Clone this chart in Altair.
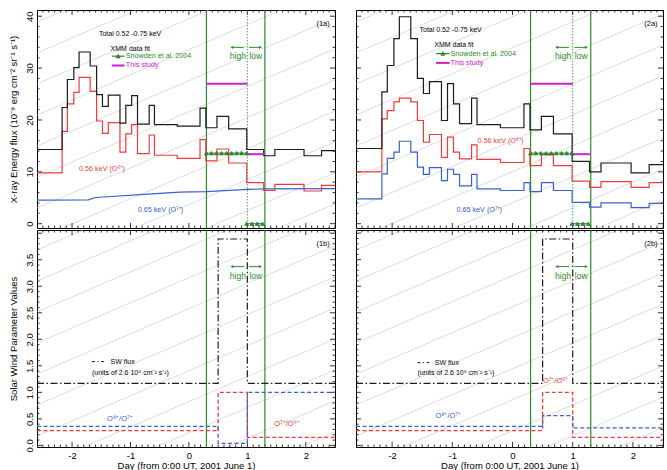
import altair as alt
import pandas as pd

# ---------------------------------------------------------------------------
# Data (days from 0:00 UT, 2001 June 1)
# ---------------------------------------------------------------------------
# Edges of the XMM-Newton time bins shared by the step curves of (1a) and (2a)
bin_edges = [-2.6, -2.17, -2.08, -1.97, -1.88, -1.69, -1.58, -1.48, -1.38, -1.18,
             -1.08, -0.98, -0.88, -0.68, -0.59, -0.2, 0.19, 0.29, 0.48, 0.68,
             0.99, 1.28, 1.47, 1.97, 2.27, 2.5]

# (1a) model X-ray energy flux, 1e-9 erg cm-2 sr-1 s-1
total_1a = [14.3, 22.4, 27.8, 30.1, 33.1, 30.4, 24.9, 22.6, 24.8, 19.4,
            22.8, 24.7, 19.2, 22.8, 19.1, 18.8, 22.3, 18.5, 20.7, 18.3,
            14.3, 13.1, 14.3, 13.1, 14.1]
o6_1a = [9.8, 17.8, 23.1, 25.3, 28.2, 25.5, 19.8, 17.4, 19.5, 13.8,
         17.3, 19.1, 13.5, 17.1, 13.2, 12.6, 16.2, 12.1, 14.4, 11.7,
         7.9, 6.4, 7.6, 6.3, 7.4]
o7_1a_days = [-2.6, -1.72, -1.6, -0.7, -0.16, 0.3, 1.0, 1.3, 2.5]
o7_1a = [4.55, 4.6, 5.05, 5.7, 6.1, 6.2, 6.6, 6.7, 6.75]

# (2a) model X-ray energy flux
total_2a = [14.5, 25.4, 30.5, 35.7, 39.9, 35.7, 28.0, 25.1, 27.4, 19.9,
            27.0, 23.1, 19.3, 24.2, 19.1, 18.5, 23.1, 18.1, 20.7, 17.3,
            12.0, 10.0, 11.7, 9.8, 11.4]
o6_2a = [10.0, 20.2, 21.8, 23.5, 24.2, 23.5, 19.9, 15.7, 17.2, 12.8,
         16.7, 13.8, 12.5, 15.2, 12.4, 11.8, 14.5, 11.2, 13.3, 11.2,
         8.2, 7.0, 8.1, 7.0, 7.9]
o7_2a = [4.8, 9.6, 12.6, 13.8, 15.9, 13.8, 10.9, 9.5, 10.8, 8.3,
         10.5, 9.5, 7.3, 9.5, 6.7, 6.4, 7.9, 6.2, 7.9, 6.4,
         4.1, 3.2, 4.0, 3.1, 3.9]

# XMM data fit, Snowden et al. 2004
snowden_high_days = [0.30, 0.386, 0.472, 0.558, 0.644, 0.73, 0.816, 0.902, 0.988]
snowden_high_flux = [13.6, 13.6, 13.6, 13.6, 13.6, 13.6, 13.6, 13.6, 13.6]
snowden_low_days = [0.988, 1.08, 1.17, 1.26]
snowden_low_flux = [0.0, 0.0, 0.0, 0.0]

# XMM data fit, this study (high and low interval)
study_start = [0.3, 1.0]
study_end = [1.0, 1.3]
study_flux_1a = [27.0, 13.4]
study_flux_2a = [27.0, 13.4]

# Solar wind parameters (1b) and (2b)
sw_edges = [-2.6, 0.5, 1.0, 2.5]
sw_flux_1b = [1.17, 3.89, 1.17]
o8_o7_1b = [0.36, 0.04, 1.0]
o7_o6_1b = [0.28, 1.0, 0.15]
sw_flux_2b = [1.17, 3.89, 1.17]
o8_o7_2b = [0.36, 0.56, 0.33]
o7_o6_2b = [0.28, 1.0, 0.15]

# Interval boundaries
boundary_days = [0.3, 1.3]
split_day = [1.0]

# ---------------------------------------------------------------------------
FONT = "Liberation Sans"
X_DOMAIN = [-2.6, 2.5]
Y_TOP = [-0.83, 41.2]
Y_BOT = [-0.03, 4.06]
W_LEFT, W_RIGHT = 298, 307
H_TOP, H_BOT = 218, 217

INK = "#1c1c1c"
RED = "#f03a3a"
BLUE = "#3a60cc"
GREEN = "#2a8a2a"
MAGENTA = "#cc20cc"
HATCH = "#c6c6c6"


def neg_hyphen(fmt):
    return f"datum.value < 0 ? '-' + format(-datum.value, '{fmt}') : format(datum.value, '{fmt}')"


x_axis_bottom = alt.Axis(
    values=[-2, -1, 0, 1, 2], labelExpr=neg_hyphen("d"), labelFontSize=9.5,
    labelPadding=3, labelColor="black", ticks=False, domain=False, grid=False,
    title="Day (from 0:00 UT, 2001 June 1)", titleFontSize=9.5,
    titleFontWeight="normal", titlePadding=1, titleColor="black")


def y_axis(values, fmt, title):
    return alt.Axis(
        values=values, format=fmt, labelAngle=270, labelAlign="center",
        labelBaseline="bottom", labelFontSize=9.5, labelPadding=3,
        labelColor="black", ticks=False, domain=False, grid=False,
        minExtent=10, maxExtent=10, title=title, titleFontSize=9.5,
        titleFontWeight="normal", titlePadding=9, titleColor="black")


def panel_spec(width, height, ydom, xaxis, yaxis):
    return dict(W=width, H=height, ydom=ydom,
                xs=alt.Scale(domain=X_DOMAIN, nice=False, zero=False),
                ys=alt.Scale(domain=ydom, nice=False, zero=False),
                xaxis=xaxis, yaxis=yaxis)


def X(p, field):
    return alt.X(field, type="quantitative", scale=p["xs"], axis=p["xaxis"])


def Y(p, field):
    return alt.Y(field, type="quantitative", scale=p["ys"], axis=p["yaxis"])


def hatch(p, phase, gap=31.0, slope=0.43):
    """Faint diagonal background lines, clipped to the panel."""
    y0, y1 = p["ydom"]
    ky = p["H"] / (y1 - y0)
    rise = slope * p["W"]
    b = phase
    while b + rise > 0:
        b -= gap
    rows = []
    while b < p["H"]:
        rows.append({"x": X_DOMAIN[0], "x2": X_DOMAIN[1],
                     "y": y0 + b / ky, "y2": y0 + (b + rise) / ky})
        b += gap
    return alt.Chart(pd.DataFrame(rows)).mark_rule(
        color=HATCH, strokeWidth=0.6, clip=True).encode(
        x=X(p, "x"), x2=alt.X2("x2"), y=Y(p, "y"), y2=alt.Y2("y2"))


def frame_ticks(p, xmajor, xminor, ymajor, yminor):
    layers = []
    for vals, ln in ((xmajor, 5), (xminor, 2.5)):
        df = pd.DataFrame({"v": vals})
        for ya, yb in ((0, ln), (p["H"], p["H"] - ln)):
            layers.append(alt.Chart(df).mark_rule(color="black", strokeWidth=0.8).encode(
                x=X(p, "v"), y=alt.value(ya), y2=alt.value(yb)))
    for vals, ln in ((ymajor, 5), (yminor, 2.5)):
        df = pd.DataFrame({"v": vals})
        for xa, xb in ((0, ln), (p["W"], p["W"] - ln)):
            layers.append(alt.Chart(df).mark_rule(color="black", strokeWidth=0.8).encode(
                y=Y(p, "v"), x=alt.value(xa), x2=alt.value(xb)))
    return layers


def steps(p, edges, values, color, width=1.2, dash=None):
    df = pd.DataFrame({"x": edges, "y": list(values) + [values[-1]]})
    kw = dict(interpolate="step-after", color=color, strokeWidth=width, clip=True)
    if dash:
        kw["strokeDash"] = dash
    return alt.Chart(df).mark_line(**kw).encode(x=X(p, "x"), y=Y(p, "y"))


def polyline(p, xs, ys, color, width=1.2):
    df = pd.DataFrame({"x": xs, "y": ys})
    return alt.Chart(df).mark_line(color=color, strokeWidth=width, clip=True).encode(
        x=X(p, "x"), y=Y(p, "y"))


def vlines(p, days, color, width=1.2, dash=None):
    kw = dict(color=color, strokeWidth=width)
    if dash:
        kw["strokeDash"] = dash
    return alt.Chart(pd.DataFrame({"x": days})).mark_rule(**kw).encode(x=X(p, "x"))


def hseg(p, x, x2, y, color, width=1.2, dash=None):
    kw = dict(color=color, strokeWidth=width)
    if dash:
        kw["strokeDash"] = dash
    df = pd.DataFrame({"x": x, "x2": x2, "y": y})
    return alt.Chart(df).mark_rule(**kw).encode(x=X(p, "x"), x2=alt.X2("x2"), y=Y(p, "y"))


def label(p, x, y, text, color="black", size=7.0, align="left", baseline="middle"):
    df = pd.DataFrame({"x": [x], "y": [y], "t": [text]})
    return alt.Chart(df).mark_text(
        align=align, baseline=baseline, fontSize=size, color=color, font=FONT).encode(
        x=X(p, "x"), y=Y(p, "y"), text="t:N")


def marker(p, x, y, shape, color, size, stroke=None):
    df = pd.DataFrame({"x": x, "y": y})
    kw = dict(shape=shape, filled=True, size=size, color=color, opacity=1)
    if stroke:
        kw["stroke"] = stroke
        kw["strokeWidth"] = 0.6
    return alt.Chart(df).mark_point(**kw).encode(x=X(p, "x"), y=Y(p, "y"))


def high_low(p, y_arrow, y_text):
    return [
        hseg(p, [0.735], [0.94], [y_arrow], GREEN, 1.0),
        marker(p, [0.735], [y_arrow], "triangle-left", GREEN, 10),
        hseg(p, [1.03], [1.225], [y_arrow], GREEN, 1.0),
        marker(p, [1.225], [y_arrow], "triangle-right", GREEN, 10),
        label(p, 0.975, y_text, "high", GREEN, 8.5, "right"),
        label(p, 1.035, y_text, "low", GREEN, 8.5, "left"),
    ]


x_major = [-2, -1, 0, 1, 2]
x_minor = [round(-2.5 + 0.1 * i, 1) for i in range(51) if round(-2.5 + 0.1 * i, 1) not in x_major]
top_major = [0, 10, 20, 30, 40]
top_minor = [v for v in range(0, 41, 2) if v not in top_major]
bot_major = [0.0, 0.5, 1.0, 1.5, 2.0, 2.5, 3.0, 3.5, 4.0]
bot_minor = [round(0.1 * i, 1) for i in range(41) if round(0.1 * i, 1) not in bot_major]


def xray_panel(p, tag, total, o6, o7_layer, study_flux, phase, pos):
    ticks = frame_ticks(p, x_major, x_minor, top_major, top_minor)
    snow = pd.DataFrame({
        "x": snowden_high_days + snowden_low_days,
        "y": snowden_high_flux + snowden_low_flux,
        "seg": ["high"] * len(snowden_high_days) + ["low"] * len(snowden_low_days)})
    layers = [hatch(p, phase)] + ticks + [
        vlines(p, boundary_days, GREEN, 1.2),
        vlines(p, split_day, GREEN, 0.8, [1.5, 1.5]),
        o7_layer,
        steps(p, bin_edges, o6, RED),
        steps(p, bin_edges, total, INK),
        hseg(p, study_start, study_end, study_flux, MAGENTA, 2.0),
        alt.Chart(snow).mark_line(color=GREEN, strokeWidth=1.0).encode(
            x=X(p, "x"), y=Y(p, "y"), detail="seg:N"),
        alt.Chart(snow).mark_point(shape="triangle-up", filled=True, size=16,
                                   color="#3c9c3c", stroke="#0e5a0e",
                                   strokeWidth=0.6, opacity=1).encode(
            x=X(p, "x"), y=Y(p, "y")),
        label(p, pos["total"][0], pos["total"][1], "Total 0.52 -0.75 keV"),
        label(p, pos["fit"][0], pos["fit"][1], "XMM data fit"),
        hseg(p, [pos["leg"][0]], [pos["leg"][1]], [pos["snow_y"]], GREEN, 1.2),
        marker(p, [(pos["leg"][0] + pos["leg"][1]) / 2], [pos["snow_y"]],
               "triangle-up", "#3c9c3c", 16, "#0e5a0e"),
        label(p, pos["leg"][2], pos["snow_y"], "Snowden et al. 2004", GREEN, 7.2),
        hseg(p, [pos["leg"][0]], [pos["leg"][1]], [pos["study_y"]], MAGENTA, 2.0),
        label(p, pos["leg"][2], pos["study_y"], "This study", MAGENTA, 7.2),
        label(p, pos["red"][0], pos["red"][1], "0.56 keV (O⁶⁺)", RED, 7.2),
        label(p, pos["blue"][0], pos["blue"][1], "0.65 keV (O⁷⁺)", BLUE, 7.2),
        label(p, 2.41, 38.5, tag, "black", 7.5, "right"),
    ] + high_low(p, 34.0, 32.4)
    return alt.layer(*layers).properties(width=p["W"], height=p["H"])


def wind_panel(p, tag, sw, o8o7, o7o6, phase, pos):
    ticks = frame_ticks(p, x_major, x_minor, bot_major, bot_minor)
    layers = [hatch(p, phase)] + ticks + [
        vlines(p, boundary_days, GREEN, 1.2),
        steps(p, sw_edges, o7o6, RED, 1.3, [4, 2.5]),
        steps(p, sw_edges, o8o7, BLUE, 1.3, [4, 2.5]),
        steps(p, sw_edges, sw, INK, 1.2, [7, 2.5, 1.5, 2.5]),
        hseg(p, [pos["sw"][0]], [pos["sw"][1]], [pos["sw_y"]], INK, 1.0, [3, 2.5, 1.2, 2.5]),
        label(p, pos["sw"][2], pos["sw_y"], "SW flux", "black", 7.0),
        label(p, pos["units"][0], pos["units"][1], "(units of 2.6 10⁸ cm⁻² s⁻¹)", "black", 7.0),
        label(p, pos["o8"][0], pos["o8"][1], "O⁸⁺/O⁷⁺", BLUE, 7.5),
        label(p, pos["o7"][0], pos["o7"][1], "O⁷⁺/O⁶⁺", RED, 7.5),
        label(p, 2.41, 3.8, tag, "black", 7.5, "right"),
    ] + high_low(p, 3.37, 3.2)
    return alt.layer(*layers).properties(width=p["W"], height=p["H"])


p1a = panel_spec(W_LEFT, H_TOP, Y_TOP, None,
                 y_axis(top_major, "d", "X-ray Energy flux (10⁻⁹ erg cm⁻² sr⁻¹ s⁻¹)"))
p2a = panel_spec(W_RIGHT, H_TOP, Y_TOP, None, None)
p1b = panel_spec(W_LEFT, H_BOT, Y_BOT, x_axis_bottom,
                 y_axis(bot_major[:-1], ".1f", "Solar Wind Parameter Values"))
p2b = panel_spec(W_RIGHT, H_BOT, Y_BOT, x_axis_bottom, None)

chart_1a = xray_panel(
    p1a, "(1a)", total_1a, o6_1a, polyline(p1a, o7_1a_days, o7_1a, BLUE), study_flux_1a, 20,
    dict(total=(-1.54, 36.6), fit=(-1.34, 33.7), leg=(-1.32, -1.10, -1.08),
         snow_y=32.3, study_y=30.5, red=(-1.88, 10.6), blue=(-0.875, 2.6)))
chart_2a = xray_panel(
    p2a, "(2a)", total_2a, o6_2a, steps(p2a, bin_edges, o7_2a, BLUE), study_flux_2a, 20,
    dict(total=(-1.545, 37.3), fit=(-1.30, 34.4), leg=(-1.27, -1.045, -1.03),
         snow_y=32.8, study_y=31.0, red=(-0.58, 15.9), blue=(-0.93, 2.6)))
chart_1b = wind_panel(
    p1b, "(1b)", sw_flux_1b, o8_o7_1b, o7_o6_1b, 11,
    dict(sw=(-1.66, -1.42, -1.34), sw_y=1.58, units=(-1.66, 1.37),
         o8=(-1.40, 0.50), o7=(1.46, 0.40)))
chart_2b = wind_panel(
    p2b, "(2b)", sw_flux_2b, o8_o7_2b, o7_o6_2b, 11,
    dict(sw=(-1.58, -1.38, -1.29), sw_y=1.56, units=(-1.58, 1.37),
         o8=(-1.28, 0.55), o7=(0.505, 1.22)))

chart = alt.concat(
    chart_1a, chart_2a, chart_1b, chart_2b,
    columns=2,
    spacing={"row": 2, "column": 21},
    bounds="flush",
).properties(
    padding={"left": 7, "top": 8, "right": 0, "bottom": 0},
    background="white",
).configure(font=FONT).configure_view(stroke="black", strokeWidth=1)

chart.save("out.html", embed_options={"renderer": "svg", "actions": False})
